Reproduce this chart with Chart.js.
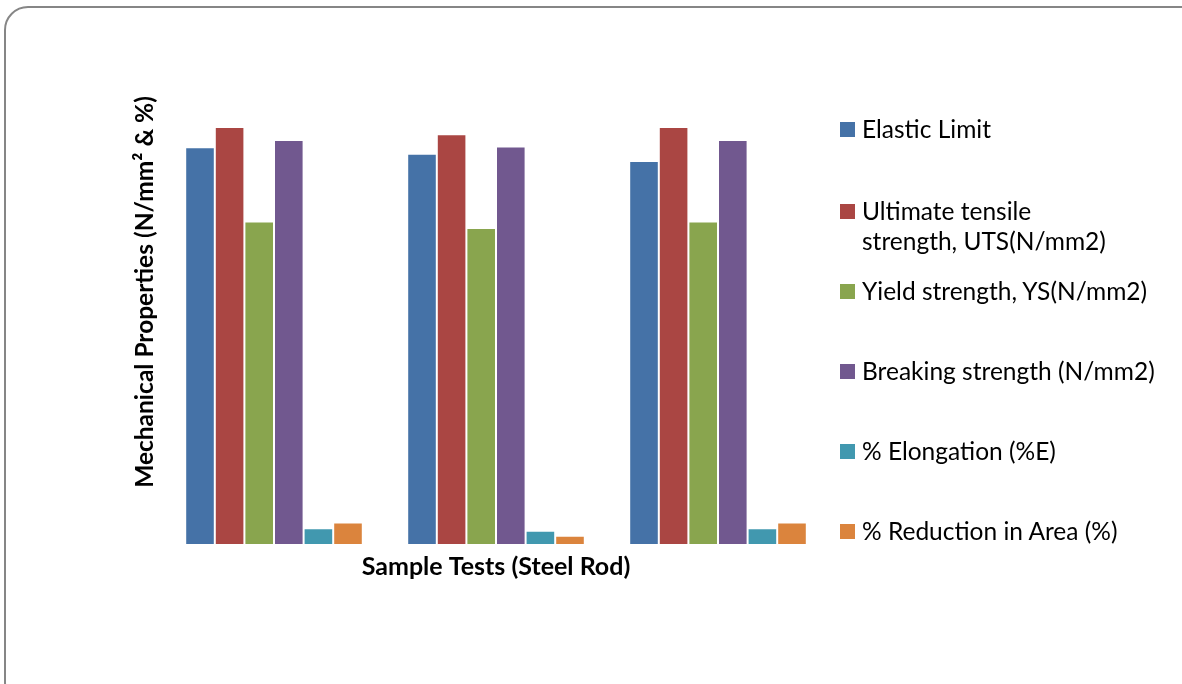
<!DOCTYPE html>
<html>
<head>
<meta charset="utf-8">
<script src="https://cdn.jsdelivr.net/npm/chart.js@4/dist/chart.umd.min.js"></script>
<style>
  html, body { margin: 0; padding: 0; background: #fff; }
  #wrap { position: relative; width: 1182px; height: 684px; overflow: hidden; }
  #frame { position: absolute; left: 4px; top: 6px; width: 1200px; height: 700px;
           border: 2px solid #868686; border-radius: 24px; box-sizing: border-box; }
  canvas { position: absolute; left: 0; top: 0; }
  .lg { position: absolute; left: 840px; font-family: Lato, "Open Sans", sans-serif;
        font-size: 24.5px; color: #000; line-height: 30px; white-space: pre-line; }
  .lg i { position: absolute; left: 0; top: 8px; width: 15px; height: 15px; }
  .lg span { display: block; margin-left: 22px; }
</style>
</head>
<body>
<div id="wrap">
  <div id="frame"></div>
  <canvas id="c" width="1182" height="684"></canvas>
  <div id="legend"></div>
</div>
<script>
// Three test samples of steel rod
const categories = ['Sample 1', 'Sample 2', 'Sample 3'];

const seriesNames = [
  'Elastic Limit',
  'Ultimate tensile\nstrength, UTS(N/mm2)',
  'Yield strength, YS(N/mm2)',
  'Breaking strength (N/mm2)',
  '% Elongation (%E)',
  '% Reduction in Area (%)'
];
const seriesColors = ['#4572A7', '#AA4643', '#89A54E', '#71588F', '#4198AF', '#DB843D'];

const elasticLimit      = [551, 542, 532];
const ultimateTensile   = [579, 569, 579];
const yieldStrength     = [448, 439, 448];
const breakingStrength  = [561, 552, 561];
const elongation        = [22, 18.5, 22];
const reductionInArea   = [30, 11.5, 30];

const seriesValues = [elasticLimit, ultimateTensile, yieldStrength,
                      breakingStrength, elongation, reductionInArea];

const yMax = 700;
const fontFamily = 'Lato, "Open Sans", sans-serif';

const datasets = seriesNames.map((name, i) => ({
  label: name.replace('\n', ' '),
  data: seriesValues[i],
  backgroundColor: seriesColors[i],
  borderColor: 'rgba(255,255,255,0.25)',
  borderWidth: 1,
  barPercentage: 1.0,
  categoryPercentage: 0.8
}));

new Chart(document.getElementById('c'), {
  type: 'bar',
  data: { labels: categories, datasets },
  options: {
    responsive: false,
    animation: false,
    events: [],
    layout: { padding: { left: 130, right: 353, top: 40, bottom: 102 } },
    plugins: { legend: { display: false }, tooltip: { enabled: false } },
    scales: {
      x: {
        grid: { display: false },
        border: { display: false },
        ticks: { display: false },
        title: {
          display: true,
          text: 'Sample Tests (Steel Rod)',
          color: '#000',
          font: { family: fontFamily, size: 25, weight: 'bold' },
          padding: 0
        },
        afterFit: s => { s.height = 38; }
      },
      y: {
        min: 0,
        max: yMax,
        grid: { display: false },
        border: { display: false },
        ticks: { display: false },
        title: {
          display: true,
          text: 'Mechanical Properties (N/mm² & %)',
          color: '#000',
          font: { family: fontFamily, size: 24.5, weight: 'bold' },
          padding: 0
        },
        afterFit: s => { s.width = 33; }
      }
    }
  }
});

// Legend entries placed down the right-hand side
const legendTops = [114, 196, 276, 356, 436, 516];
const legend = document.getElementById('legend');
seriesNames.forEach((name, i) => {
  const d = document.createElement('div');
  d.className = 'lg';
  d.style.top = legendTops[i] + 'px';
  const sw = document.createElement('i');
  sw.style.background = seriesColors[i];
  const t = document.createElement('span');
  t.textContent = name;
  d.appendChild(sw);
  d.appendChild(t);
  legend.appendChild(d);
});
</script>
</body>
</html>
